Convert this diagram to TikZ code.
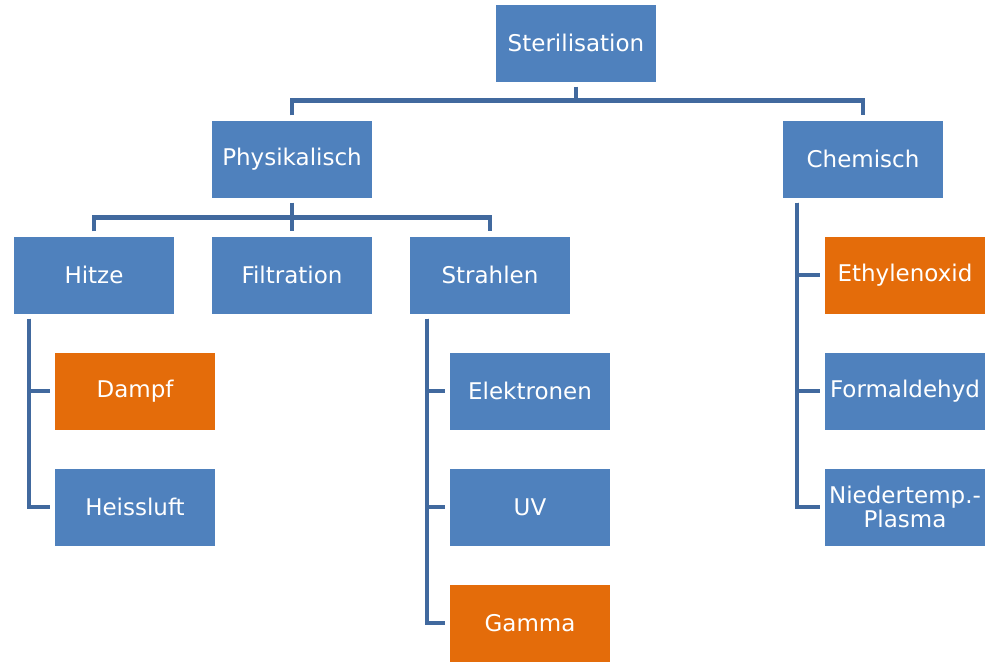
\documentclass[tikz,border=0pt]{standalone}
\usepackage{fontspec}
\setmainfont{DejaVu Sans}
\begin{document}
\begin{tikzpicture}[x=1pt,y=-1pt,
  boxb/.style={fill=bluebox, text=white, minimum width=160pt, minimum height=77pt, inner sep=0pt, font=\fontsize{23}{24.5}\selectfont, align=center},
  boxo/.style={boxb, fill=orangebox},
  conn/.style={draw=linecol, line width=4.5pt},
  ]
\definecolor{bluebox}{HTML}{4F81BD}
\definecolor{orangebox}{HTML}{E46C0A}
\definecolor{linecol}{HTML}{41699E}
\useasboundingbox (0,0) rectangle (995,667);
\node[boxb] (ster) at (576,43) {Sterilisation};
\node[boxb] (phys) at (292,159) {Physikalisch};
\node[boxb] (chem) at (863,159) {Chemisch};
\node[boxb] (hitze) at (94,275) {Hitze};
\node[boxb] (filt) at (292,275) {Filtration};
\node[boxb] (strah) at (490,275) {Strahlen};
\node[boxo] (dampf) at (135,391) {Dampf};
\node[boxb] (heiss) at (135,507) {Heissluft};
\node[boxb] (elek) at (530,391) {Elektronen};
\node[boxb] (uv) at (530,507) {UV};
\node[boxo] (gamma) at (530,623) {Gamma};
\node[boxo] (ethyl) at (905,275) {Ethylenoxid};
\node[boxb] (form) at (905,391) {Formaldehyd};
\node[boxb] (nied) at (905,507) {Niedertemp.-\\Plasma};
% top bus
\draw[conn] ([yshift=-5pt]ster.south) -- ++(0,14) coordinate (b1);
\draw[conn] ([yshift=5pt]phys.north) |- (b1) -| ([yshift=5pt]chem.north);
% second bus
\draw[conn] ([yshift=-5pt]phys.south) -- ++(0,15) coordinate (b2);
\draw[conn] ([yshift=5pt]hitze.north) |- (b2) -| ([yshift=5pt]strah.north);
\draw[conn] (b2) -- ([yshift=5pt]filt.north);
% Hitze children
\draw[conn] ([xshift=-65pt,yshift=-5pt]hitze.south) coordinate (h0) |- ([xshift=-5pt]heiss.west);
\draw[conn] (h0) |- ([xshift=-5pt]dampf.west);
% Strahlen children
\draw[conn] ([xshift=-63pt,yshift=-5pt]strah.south) coordinate (s0) |- ([xshift=-5pt]gamma.west);
\draw[conn] (s0) |- ([xshift=-5pt]elek.west);
\draw[conn] (s0) |- ([xshift=-5pt]uv.west);
% Chemisch children
\draw[conn] ([xshift=-66pt,yshift=-5pt]chem.south) coordinate (c0) |- ([xshift=-5pt]nied.west);
\draw[conn] (c0) |- ([xshift=-5pt]ethyl.west);
\draw[conn] (c0) |- ([xshift=-5pt]form.west);
\end{tikzpicture}
\end{document}
